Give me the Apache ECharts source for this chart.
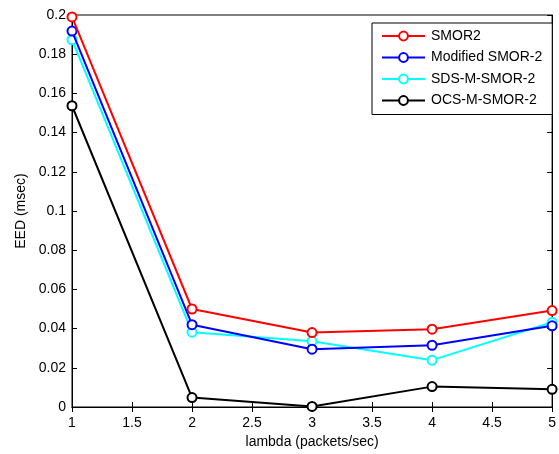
<!DOCTYPE html>
<html><head><meta charset="utf-8">
<script src="https://cdn.jsdelivr.net/npm/echarts@6/dist/echarts.min.js"></script>
<style>html,body{margin:0;padding:0;background:#fff}#c{width:559px;height:454px}</style>
</head><body><div id="c"></div>
<script>
const lambda = [1, 2, 3, 4, 5];
const smor2 = [0.199, 0.050, 0.038, 0.0397, 0.0492];
const modSmor2 = [0.1918, 0.042, 0.0295, 0.0315, 0.0414];
const sdsMSmor2 = [0.1874, 0.0382, 0.0335, 0.0239, 0.0432];
const ocsMSmor2 = [0.1537, 0.0048, 0.0003, 0.0104, 0.009];
const seriesNames = ['SMOR2', 'Modified SMOR-2', 'SDS-M-SMOR-2', 'OCS-M-SMOR-2'];
const seriesColors = ['#ff0000', '#0000ff', '#00ffff', '#000000'];
const seriesValues = [smor2, modSmor2, sdsMSmor2, ocsMSmor2];

const font = 'Liberation Sans, Arial, Helvetica, sans-serif';
const chart = echarts.init(document.getElementById('c'), null, {renderer: 'canvas'});
const tickStyle = {show: true, inside: true, length: 5, lineStyle: {color: '#000', width: 1}};
chart.setOption({
  animation: false,
  backgroundColor: '#fff',
  grid: {left: 72, right: 3, top: 15, bottom: 44, show: true, borderColor: '#000', borderWidth: 1, containLabel: false},
  legend: {
    left: 372, top: 23, orient: 'vertical',
    data: seriesNames,
    itemWidth: 43, itemHeight: 11, itemGap: 7.5,
    padding: [6, 10, 7, 9],
    borderColor: '#000', borderWidth: 1, backgroundColor: '#fff',
    textStyle: {fontFamily: font, fontSize: 14, lineHeight: 14, color: '#000', padding: [0, 0, 0, 1]}
  },
  xAxis: [{
    type: 'value', min: 1, max: 5, interval: 0.5,
    name: 'lambda (packets/sec)', nameLocation: 'middle', nameGap: 28,
    nameTextStyle: {fontFamily: font, fontSize: 14, color: '#000'},
    axisLine: {show: true, onZero: false, lineStyle: {color: '#000', width: 1}},
    axisTick: tickStyle,
    axisLabel: {fontFamily: font, fontSize: 14, color: '#000', margin: 9},
    splitLine: {show: false}
  }, {
    type: 'value', position: 'top', min: 1, max: 5, interval: 0.5,
    axisLine: {show: true, lineStyle: {color: '#000'}}, axisTick: tickStyle,
    axisLabel: {show: false}, splitLine: {show: false}
  }],
  yAxis: [{
    type: 'value', min: 0, max: 0.2, interval: 0.02,
    name: 'EED (msec)', nameLocation: 'middle', nameGap: 34,
    nameTextStyle: {fontFamily: font, fontSize: 14, color: '#000'},
    axisLine: {show: true, onZero: false, lineStyle: {color: '#000', width: 1}},
    axisTick: tickStyle,
    axisLabel: {fontFamily: font, fontSize: 14, color: '#000', margin: 6,
      formatter: v => String(parseFloat(v.toFixed(2)))},
    splitLine: {show: false}
  }, {
    type: 'value', position: 'right', min: 0, max: 0.2, interval: 0.02,
    axisLine: {show: true, lineStyle: {color: '#000'}}, axisTick: tickStyle,
    axisLabel: {show: false}, splitLine: {show: false}
  }],
  series: seriesNames.map((n, i) => ({
    name: n, type: 'line',
    data: lambda.map((x, j) => [x, seriesValues[i][j]]),
    symbol: 'emptyCircle', symbolSize: 9,
    color: seriesColors[i],
    lineStyle: {width: 2, color: seriesColors[i]},
    itemStyle: {color: seriesColors[i], borderWidth: 2},
    clip: false, z: 10 - i
  }))
});
</script></body></html>
